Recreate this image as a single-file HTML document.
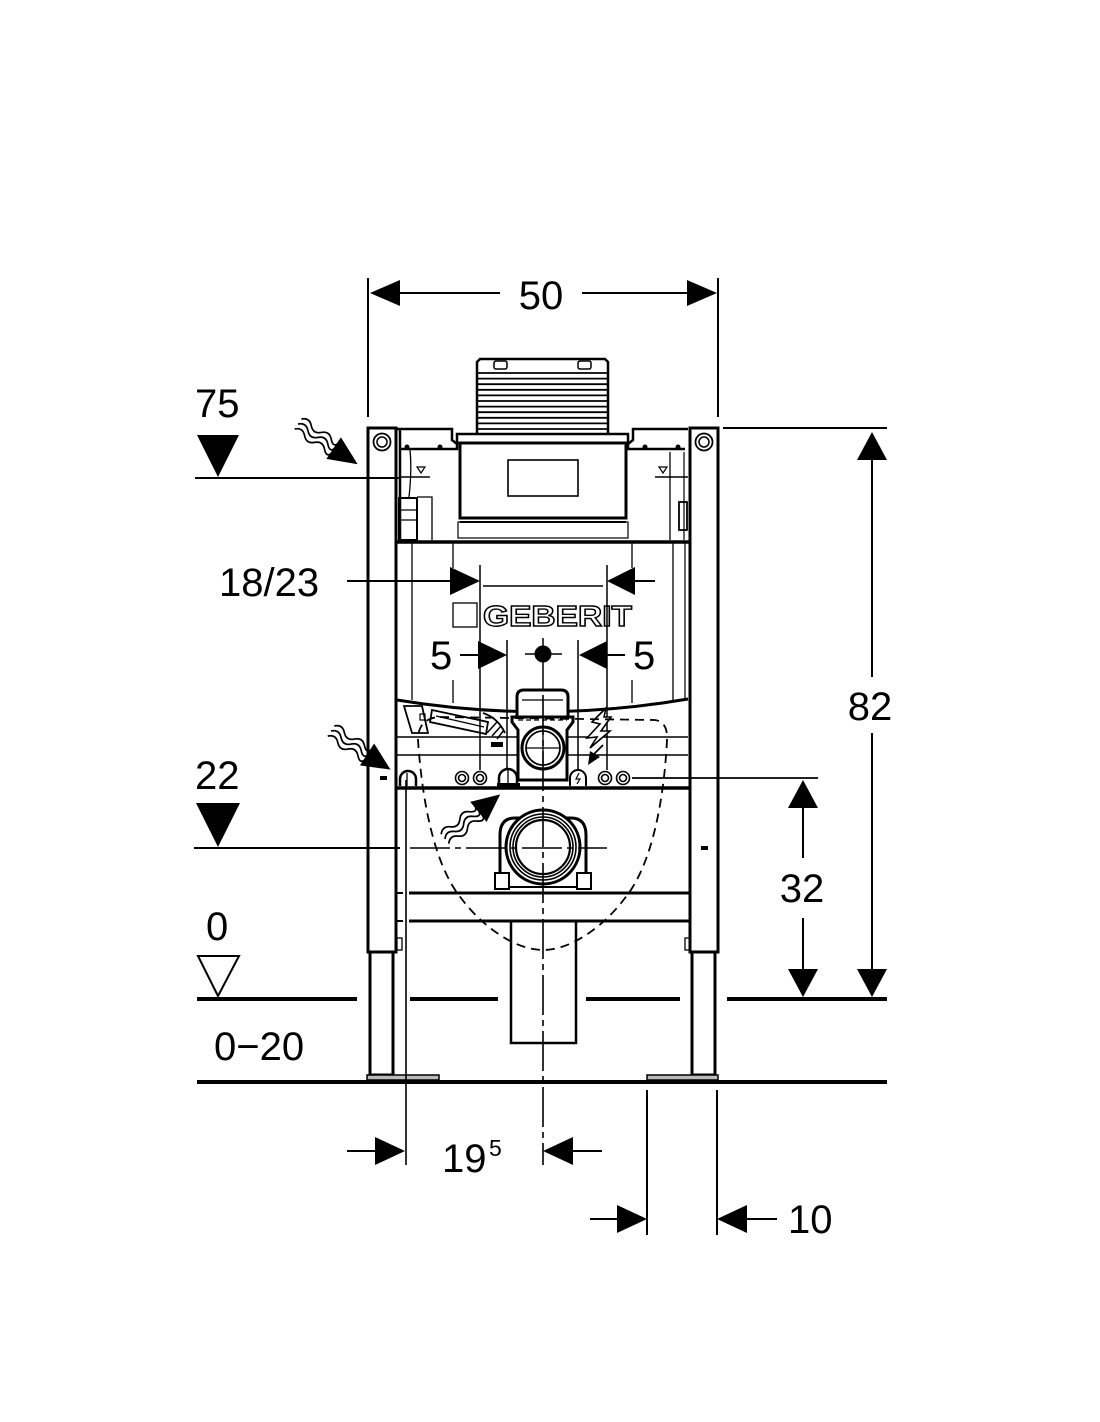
<!DOCTYPE html>
<html><head><meta charset="utf-8"><style>
html,body{margin:0;padding:0;background:#fff;}
svg{display:block;}
text{font-family:"Liberation Sans",sans-serif;fill:#000;}
</style></head><body>
<svg width="1100" height="1422" viewBox="0 0 1100 1422" xmlns="http://www.w3.org/2000/svg">
<rect width="1100" height="1422" fill="#fff"/>
<g stroke="#000" fill="none" stroke-linecap="butt">

<!-- ===== Top dimension 50 ===== -->
<line x1="368" y1="278" x2="368" y2="417" stroke-width="2"/>
<line x1="718" y1="278" x2="718" y2="417" stroke-width="2"/>
<line x1="372" y1="293" x2="500" y2="293" stroke-width="2"/>
<line x1="582" y1="293" x2="715" y2="293" stroke-width="2"/>
<polygon points="370,293 400,280 400,306" fill="#000" stroke="none"/>
<polygon points="717,293 687,280 687,306" fill="#000" stroke="none"/>

<!-- ===== Grill / actuator ===== -->
<path d="M477 433 L477 362 L480 359 L605 359 L608 362 L608 433" stroke-width="2.5"/>
<g stroke-width="1.8">
<line x1="478" y1="373" x2="607" y2="373"/>
<line x1="478" y1="378.6" x2="607" y2="378.6"/>
<line x1="478" y1="384.2" x2="607" y2="384.2"/>
<line x1="478" y1="389.8" x2="607" y2="389.8"/>
<line x1="478" y1="395.4" x2="607" y2="395.4"/>
<line x1="478" y1="401" x2="607" y2="401"/>
<line x1="478" y1="406.6" x2="607" y2="406.6"/>
<line x1="478" y1="412.2" x2="607" y2="412.2"/>
<line x1="478" y1="417.8" x2="607" y2="417.8"/>
<line x1="478" y1="423.4" x2="607" y2="423.4"/>
<line x1="478" y1="429" x2="607" y2="429"/>
</g>
<rect x="494" y="361" width="13" height="8" rx="2" stroke-width="1.5"/>
<rect x="578" y="361" width="13" height="8" rx="2" stroke-width="1.5"/>
<!-- bar & box -->
<rect x="457" y="434" width="171" height="9" stroke-width="2.5"/>
<rect x="460" y="443" width="166" height="75" stroke-width="3"/>
<rect x="508" y="460" width="70" height="36" stroke-width="1.6"/>
<line x1="460" y1="522" x2="626" y2="522" stroke-width="2"/>
<rect x="458" y="522" width="170" height="16" stroke-width="1.2"/>

<!-- side brackets -->
<path d="M397 429 L452 429 L452 440 L457 444 L457 449 L400 449" stroke-width="2.5"/>
<circle cx="407" cy="447" r="2" fill="#000"/><circle cx="440" cy="447" r="2" fill="#000"/>
<path d="M688 429 L633 429 L633 440 L628 444 L628 449 L685 449" stroke-width="2.5"/>
<circle cx="645" cy="447" r="2" fill="#000"/><circle cx="678" cy="447" r="2" fill="#000"/>

<!-- left inner small parts -->
<path d="M410 450 Q412 470 409 497" stroke-width="1.3"/>
<polygon points="417,467 425,467 421,473" stroke-width="1.2"/>
<line x1="400" y1="477" x2="430" y2="477" stroke-width="1.5"/>
<rect x="399" y="498" width="18" height="42" stroke-width="2"/>
<line x1="399" y1="510" x2="417" y2="510" stroke-width="1.3"/>
<line x1="399" y1="520" x2="417" y2="520" stroke-width="1.3"/>
<path d="M417 497 L432 497 L432 540" stroke-width="1.3"/>
<!-- right inner small parts -->
<line x1="670" y1="452" x2="670" y2="540" stroke-width="1.3"/>
<polygon points="659,467 667,467 663,473" stroke-width="1.2"/>
<line x1="655" y1="477" x2="688" y2="477" stroke-width="1.5"/>
<rect x="679" y="502" width="8" height="28" stroke-width="1.8"/>
<line x1="684" y1="452" x2="684" y2="540" stroke-width="1.2"/>

<!-- ===== Posts ===== -->
<!-- left -->
<path d="M368 952 L368 428 L396 428 L396 952 Z" stroke-width="3"/>
<line x1="400" y1="428" x2="400" y2="543" stroke-width="2.5"/>
<circle cx="382" cy="442" r="8.5" stroke-width="1.8"/>
<circle cx="382" cy="442" r="5" stroke-width="1.5"/>
<rect x="370" y="952" width="23" height="123" stroke-width="3"/>
<rect x="367" y="1075" width="72" height="5" fill="#bbb" stroke-width="1.5"/>
<rect x="397" y="938" width="5" height="12" stroke-width="1.3"/>
<line x1="396" y1="893" x2="403" y2="893" stroke-width="2"/>
<line x1="396" y1="921" x2="403" y2="921" stroke-width="2"/>
<!-- right -->
<path d="M690 952 L690 428 L718 428 L718 952 Z" stroke-width="3"/>
<line x1="685" y1="543" x2="685" y2="700" stroke-width="1.2"/>
<circle cx="704" cy="442" r="8.5" stroke-width="1.8"/>
<circle cx="704" cy="442" r="5" stroke-width="1.5"/>
<rect x="692" y="952" width="23" height="123" stroke-width="3"/>
<rect x="647" y="1075" width="71" height="5" fill="#bbb" stroke-width="1.5"/>
<rect x="685" y="938" width="5" height="12" stroke-width="1.3"/>
<rect x="701" y="846" width="7" height="4" fill="#000" stroke="none"/>
<rect x="380" y="776" width="7" height="4" fill="#000" stroke="none"/>

<!-- ===== Cistern body ===== -->
<line x1="396" y1="542" x2="690" y2="542" stroke-width="3.5"/>
<line x1="412" y1="543" x2="412" y2="700" stroke-width="1.3"/>
<line x1="673" y1="543" x2="673" y2="700" stroke-width="1.3"/>
<line x1="453" y1="543" x2="453" y2="568" stroke-width="1.3"/>
<line x1="453" y1="680" x2="453" y2="703" stroke-width="1.3"/>
<line x1="632" y1="543" x2="632" y2="568" stroke-width="1.3"/>
<line x1="632" y1="680" x2="632" y2="703" stroke-width="1.3"/>
<path d="M397 700 Q543 724 688 699" stroke-width="3"/>
<line x1="397" y1="737" x2="688" y2="737" stroke-width="1.5"/>
<line x1="397" y1="755" x2="688" y2="755" stroke-width="1.5"/>
<!-- crossbars -->
<line x1="396" y1="788" x2="690" y2="788" stroke-width="3.5"/>
<line x1="409" y1="893" x2="690" y2="893" stroke-width="3"/>
<line x1="409" y1="921" x2="690" y2="921" stroke-width="3"/>

<!-- GEBERIT logo -->
<line x1="483" y1="586" x2="603" y2="586" stroke-width="1.5"/>
<rect x="453" y="603" width="24" height="24" stroke-width="1.3"/>
<text x="483" y="626" font-size="29" font-weight="bold" textLength="149" lengthAdjust="spacingAndGlyphs" style="fill:#fff;stroke:#000;stroke-width:1.4;font-family:'Liberation Sans',sans-serif">GEBERIT</text>

<!-- dimension 18/23 -->
<line x1="347" y1="581" x2="452" y2="581" stroke-width="2"/>
<polygon points="480,581 450,567 450,595" fill="#000" stroke="none"/>
<line x1="633" y1="581" x2="655" y2="581" stroke-width="2"/>
<polygon points="607,581 635,567 635,595" fill="#000" stroke="none"/>
<line x1="480" y1="565" x2="480" y2="770" stroke-width="1.5"/>
<line x1="607" y1="565" x2="607" y2="770" stroke-width="1.5"/>

<!-- dimension 5 / 5 -->
<line x1="460" y1="655" x2="480" y2="655" stroke-width="2"/>
<polygon points="507,655 478,641 478,669" fill="#000" stroke="none"/>
<line x1="507" y1="640" x2="507" y2="772" stroke-width="1.5"/>
<line x1="605" y1="655" x2="625" y2="655" stroke-width="2"/>
<polygon points="579,655 607,641 607,669" fill="#000" stroke="none"/>
<line x1="578" y1="640" x2="578" y2="772" stroke-width="1.5"/>
<!-- center dot -->
<circle cx="543" cy="654" r="8.5" fill="#000" stroke="none"/>
<line x1="525" y1="654" x2="562" y2="654" stroke-width="1.5"/>
<line x1="543" y1="638" x2="543" y2="695" stroke-width="1.5"/>

<!-- flush valve -->
<path d="M517 717 L517 697 Q517 690 524 690 L561 690 Q568 690 568 697 L568 717" stroke-width="3" fill="#fff"/>
<line x1="522" y1="700" x2="563" y2="700" stroke-width="1.3"/>
<path d="M512 717 L573 717 L573 722 L567 730 L567 780 L518 780 L518 730 L512 722 Z" stroke-width="3" fill="#fff"/>
<circle cx="543" cy="748" r="21" stroke-width="3"/>
<circle cx="543" cy="748" r="17" stroke-width="1.8"/>
<line x1="527" y1="748" x2="559" y2="748" stroke-width="1.3"/>
<line x1="543" y1="730" x2="543" y2="766" stroke-width="1.3"/>
<line x1="518" y1="720" x2="567" y2="720" stroke-width="1.2" stroke-dasharray="5 3"/>

<!-- left hose fittings -->
<path d="M404 706 L412 733 L428 733 L422 706 Z" stroke-width="1.8"/>
<rect x="420" y="714" width="5" height="6" stroke-width="1.2"/>
<path d="M432 710 L488 722 L486 734 L430 722 Z" stroke-width="1.8"/>
<line x1="436" y1="716" x2="484" y2="727" stroke-width="1.2"/>
<path d="M483 713 Q498 718 505 733" stroke-width="1.8"/>
<path d="M487 733 L497 722 M492 736 L501 726 M497 739 L504 730" stroke-width="1.5"/>
<rect x="491" y="742" width="12" height="5" fill="#000" stroke="none"/>

<!-- lightning -->
<path d="M606 708 L592 722 L600 724 L587 738 L597 737 L590 748 L610 731 L601 731 L611 717 L604 717 Z" stroke-width="1.6" fill="#fff"/>
<polygon points="588,765 590,751 600,757" fill="#000" stroke="none"/>
<line x1="594" y1="754" x2="603" y2="745" stroke-width="1.8"/>

<!-- connectors row -->
<g stroke-width="1.6">
<circle cx="462" cy="778" r="6.5"/><circle cx="462" cy="778" r="3.5"/>
<circle cx="480" cy="778" r="6.5"/><circle cx="480" cy="778" r="3.5"/>
<circle cx="605" cy="778" r="6.5"/><circle cx="605" cy="778" r="3.5"/>
<circle cx="623" cy="778" r="6.5"/><circle cx="623" cy="778" r="3.5"/>
</g>
<path d="M400 786 L400 779 A8 8 0 0 1 416 779 L416 786" stroke-width="2.5" fill="#fff"/>
<line x1="407" y1="773" x2="407" y2="786" stroke-width="1.3"/>
<path d="M499 786 L499 778 A9 9 0 0 1 517 778 L517 786" stroke-width="2.5" fill="#fff"/>
<rect x="497" y="783" width="23" height="5" fill="#000" stroke="none"/>
<line x1="508" y1="770" x2="508" y2="786" stroke-width="1.3"/>
<path d="M570 786 L570 778 A8 8 0 0 1 586 778 L586 786" stroke-width="2" fill="#fff"/>
<path d="M579 773 L576 779 L580 779 L577 784" stroke-width="1.2"/>

<!-- right extension line for 32 -->
<line x1="632" y1="778" x2="818" y2="778" stroke-width="1.8"/>

<!-- dashed bowl -->
<path d="M440 717 L655 720 Q668 722 667 740 C664 800 652 865 625 898 C605 925 572 950 543 950 C514 950 481 925 461 898 C434 865 422 800 418 740 Q418 718 440 717 Z" stroke-width="1.8" stroke-dasharray="9 6" fill="none"/>

<!-- drain pipe -->
<rect x="511" y="921" width="65" height="122" stroke-width="2.5" fill="none"/>

<!-- pipe connection -->
<path d="M500 875 L500 835 Q500 818 515 818 L571 818 Q586 818 586 835 L586 875" stroke-width="3" fill="#fff"/>
<rect x="495" y="873" width="14" height="16" stroke-width="2" fill="#fff"/>
<rect x="577" y="873" width="14" height="16" stroke-width="2" fill="#fff"/>
<line x1="509" y1="887" x2="577" y2="887" stroke-width="2"/>
<circle cx="543" cy="847" r="37" stroke-width="3" fill="#fff"/>
<circle cx="543" cy="847" r="33" stroke-width="1.6"/>
<circle cx="543" cy="847" r="30" stroke-width="1.6"/>
<circle cx="543" cy="847" r="27" stroke-width="2.2"/>

<!-- centerlines -->
<line x1="543" y1="695" x2="543" y2="1165" stroke-width="1.6" stroke-dasharray="40 5 6 5"/>
<line x1="194" y1="848" x2="400" y2="848" stroke-width="2"/>
<line x1="410" y1="848" x2="607" y2="848" stroke-width="1.6" stroke-dasharray="40 5 6 5"/>

<!-- 75 level -->
<line x1="195" y1="478" x2="400" y2="478" stroke-width="2"/>
<polygon points="197,435 239,435 218,477" fill="#000" stroke="none"/>
<!-- 22 level -->
<polygon points="196,803 240,803 218,847" fill="#000" stroke="none"/>
<!-- 0 level -->
<polygon points="198,956 239,956 218,996" stroke-width="2" fill="#fff"/>
<line x1="197" y1="999" x2="357" y2="999" stroke-width="4"/>
<line x1="410" y1="999" x2="498" y2="999" stroke-width="4"/>
<line x1="586" y1="999" x2="680" y2="999" stroke-width="4"/>
<line x1="727" y1="999" x2="887" y2="999" stroke-width="4"/>
<!-- floor -->
<line x1="197" y1="1082" x2="887" y2="1082" stroke-width="4"/>

<!-- wavy arrows -->
<g transform="translate(298,424) rotate(34)">
<path d="M0 -6 q6 -6 12 0 t12 0 t12 0 t8 0" stroke-width="1.7"/>
<path d="M0 0 q6 -6 12 0 t12 0 t12 0 t8 0" stroke-width="1.7"/>
<path d="M0 6 q6 -6 12 0 t12 0 t12 0 t8 0" stroke-width="1.7"/>
<polygon points="43,-13 43,13 72,0" fill="#000" stroke="none"/>
</g>
<g transform="translate(331,731) rotate(33)">
<path d="M0 -6 q6 -6 12 0 t12 0 t12 0 t8 0" stroke-width="1.7"/>
<path d="M0 0 q6 -6 12 0 t12 0 t12 0 t8 0" stroke-width="1.7"/>
<path d="M0 6 q6 -6 12 0 t12 0 t12 0 t8 0" stroke-width="1.7"/>
<polygon points="43,-13 43,13 71,0" fill="#000" stroke="none"/>
</g>
<g transform="translate(445,839) rotate(-39)">
<path d="M0 -6 q6 -6 12 0 t12 0 t12 0 t8 0" stroke-width="1.7"/>
<path d="M0 0 q6 -6 12 0 t12 0 t12 0 t8 0" stroke-width="1.7"/>
<path d="M0 6 q6 -6 12 0 t12 0 t12 0 t8 0" stroke-width="1.7"/>
<polygon points="43,-13 43,13 71,0" fill="#000" stroke="none"/>
</g>

<!-- 82 dimension -->
<line x1="723" y1="428" x2="887" y2="428" stroke-width="2"/>
<polygon points="872,432 857,460 887,460" fill="#000" stroke="none"/>
<line x1="872" y1="458" x2="872" y2="677" stroke-width="2"/>
<line x1="872" y1="733" x2="872" y2="971" stroke-width="2"/>
<polygon points="872,997 857,969 887,969" fill="#000" stroke="none"/>
<!-- 32 dimension -->
<polygon points="803,780 788,808 818,808" fill="#000" stroke="none"/>
<line x1="803" y1="806" x2="803" y2="858" stroke-width="2"/>
<line x1="803" y1="918" x2="803" y2="971" stroke-width="2"/>
<polygon points="803,997 788,969 818,969" fill="#000" stroke="none"/>

<!-- 19.5 dimension -->
<line x1="406" y1="780" x2="406" y2="1165" stroke-width="1.6"/>
<line x1="347" y1="1151" x2="377" y2="1151" stroke-width="2"/>
<polygon points="405,1151 375,1137 375,1165" fill="#000" stroke="none"/>
<line x1="571" y1="1151" x2="602" y2="1151" stroke-width="2"/>
<polygon points="543,1151 573,1137 573,1165" fill="#000" stroke="none"/>
<!-- 10 dimension -->
<line x1="647" y1="1090" x2="647" y2="1235" stroke-width="2"/>
<line x1="717" y1="1090" x2="717" y2="1235" stroke-width="2"/>
<line x1="590" y1="1219" x2="619" y2="1219" stroke-width="2"/>
<polygon points="647,1219 617,1205 617,1233" fill="#000" stroke="none"/>
<line x1="745" y1="1219" x2="777" y2="1219" stroke-width="2"/>
<polygon points="717,1219 747,1205 747,1233" fill="#000" stroke="none"/>
</g>

<!-- ===== Texts ===== -->
<text x="541" y="309" font-size="40" text-anchor="middle">50</text>
<text x="195" y="417" font-size="40">75</text>
<text x="219" y="596" font-size="40">18/23</text>
<text x="430" y="669" font-size="40">5</text>
<text x="633" y="669" font-size="40">5</text>
<text x="870" y="720" font-size="40" text-anchor="middle">82</text>
<text x="195" y="789" font-size="40">22</text>
<text x="802" y="902" font-size="40" text-anchor="middle">32</text>
<text x="206" y="940" font-size="40">0</text>
<text x="214" y="1060" font-size="40">0−20</text>
<text x="442" y="1172" font-size="40">19</text>
<text x="489" y="1156" font-size="23">5</text>
<text x="788" y="1233" font-size="40">10</text>
</svg>
</body></html>
